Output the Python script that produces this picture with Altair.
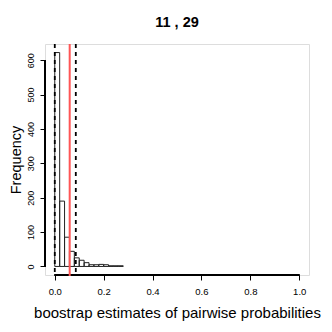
import altair as alt
import pandas as pd

# ---- data ----
bin_starts = [0.00, 0.02, 0.04, 0.06, 0.08, 0.10, 0.12, 0.14, 0.16, 0.18, 0.20, 0.22, 0.24, 0.26]
counts = [622, 190, 85, 44, 25, 18, 11, 5, 5, 6, 5, 2, 2, 2]
bin_width = 0.02
x_ticks = [0.0, 0.2, 0.4, 0.6, 0.8, 1.0]
y_ticks = [0, 100, 200, 300, 400, 500, 600]
dashed_values = [0.0, 0.086]
red_values = [0.061]
title_text = "11 , 29"
x_title = "boostrap estimates of pairwise probabilities"
y_title = "Frequency"

bars = pd.DataFrame({
    "start": bin_starts,
    "end": [b + bin_width for b in bin_starts],
    "count": counts,
})
dashed = pd.DataFrame({"v": dashed_values})
red = pd.DataFrame({"v": red_values})

W, H = 264, 231
ymax = max(counts)
xs = alt.Scale(domain=[-0.04, 1.04], nice=False, zero=False)
ys = alt.Scale(domain=[-0.04 * ymax, 1.04 * ymax], nice=False, zero=False)

FONT = "Liberation Sans"

x_axis = alt.Axis(
    values=x_ticks, format=".1f", domain=False, grid=False, orient="bottom",
    tickSize=5, tickColor="black", labelFontSize=9.5, labelPadding=6,
    labelColor="black", labelFont=FONT, labelOverlap=False,
    title=x_title, titleFont=FONT, titleFontSize=15, titleFontWeight="normal",
    titleColor="black", titleY=42, titleBaseline="alphabetic")
y_axis = alt.Axis(
    values=y_ticks, format="d", domain=False, grid=False, orient="left",
    tickSize=5, tickColor="black", labelFontSize=9, labelPadding=5,
    labelAngle=-90, labelAlign="center", labelBaseline="bottom",
    labelColor="black", labelFont=FONT, labelOverlap=False,
    title=y_title, titleFont=FONT, titleFontSize=14.5, titleFontWeight="normal",
    titleColor="black", titleAngle=-90, titleX=-25, titleBaseline="alphabetic")

hist = alt.Chart(bars).mark_rect(
    fillOpacity=0, stroke="#222222", strokeWidth=1
).encode(
    x=alt.X("start:Q", scale=xs, axis=x_axis),
    x2="end:Q",
    y=alt.Y("count:Q", scale=ys, axis=y_axis),
    y2=alt.datum(0),
)

x_axis_line = alt.Chart(bars).mark_rule(color="black", strokeWidth=1).encode(
    x=alt.X("xa:Q", scale=xs, axis=x_axis), x2="xb:Q", y=alt.value(H)
).transform_calculate(xa=str(x_ticks[0]), xb=str(x_ticks[-1]))

y_axis_line = alt.Chart(bars).mark_rule(color="black", strokeWidth=1).encode(
    y=alt.Y("ya:Q", scale=ys, axis=y_axis), y2="yb:Q", x=alt.value(0)
).transform_calculate(ya=str(y_ticks[0]), yb=str(y_ticks[-1]))

dash_rules = alt.Chart(dashed).mark_rule(
    color="black", strokeWidth=1.8, strokeDash=[4, 4]
).encode(x=alt.X("v:Q", scale=xs, axis=x_axis), y=alt.value(0), y2=alt.value(H))

red_rules = alt.Chart(red).mark_rule(
    color="#ff5555", strokeWidth=2
).encode(x=alt.X("v:Q", scale=xs, axis=x_axis), y=alt.value(0), y2=alt.value(H + 1))

chart = alt.layer(hist, x_axis_line, y_axis_line, dash_rules, red_rules).properties(
    width=W, height=H,
    title=alt.TitleParams(title_text, font=FONT, fontSize=14.5, fontWeight="bold",
                          color="black", anchor="middle", frame="group",
                          baseline="alphabetic", offset=2),
    autosize=alt.AutoSizeParams(type="none"),
    padding={"left": 37, "top": 36, "right": 15, "bottom": 49},
).configure_view(stroke=None).configure(background="white")

chart.save("out.html", embed_options={"renderer": "svg", "actions": False})
